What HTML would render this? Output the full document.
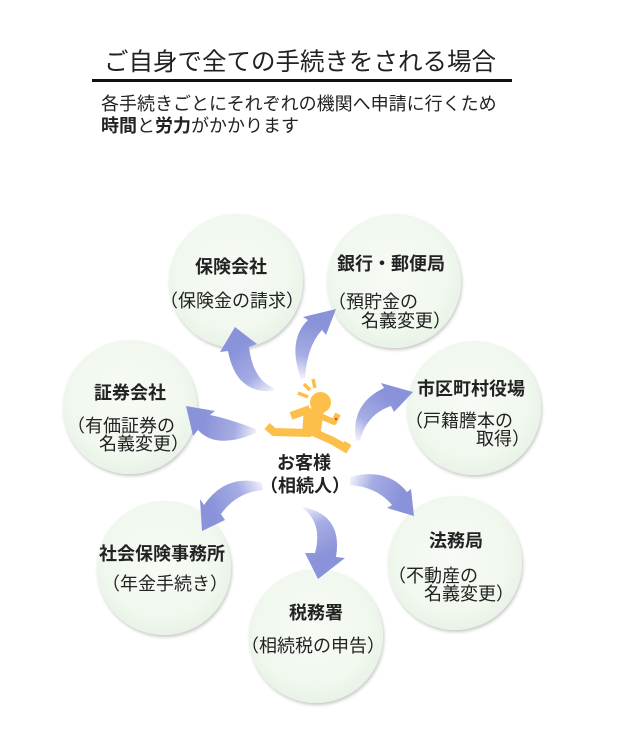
<!DOCTYPE html>
<html>
<head>
<meta charset="utf-8">
<style>
  html,body{margin:0;padding:0;background:#fff;}
  body{width:631px;height:753px;position:relative;overflow:hidden;
       font-family:"Liberation Sans","Noto Sans CJK JP",sans-serif;color:#222;}
  .c{position:absolute;width:134px;height:134px;border-radius:50%;
     background:radial-gradient(circle at 48% 44%, #f6fbf5 0%, #f1f8ef 55%, #e4efe1 84%, #d0dbce 100%);
     box-shadow:1px 2px 3px rgba(0,0,0,0.22);}
  .t{position:absolute;white-space:nowrap;font-size:18px;line-height:20px;}
  .b{font-weight:bold;}
  svg{position:absolute;left:0;top:0;}
</style>
</head>
<body>

<!-- header -->
<div class="t" style="left:104px;top:47.5px;font-size:24.5px;line-height:30px;">ご自身で全ての手続きをされる場合</div>
<div style="position:absolute;left:92px;top:79px;width:420px;height:3px;background:#111;"></div>
<div class="t" style="left:101px;top:93.5px;">各手続きごとにそれぞれの機関へ申請に行くため</div>
<div class="t" style="left:101px;top:115.5px;"><b>時間</b>と<b>労力</b>がかかります</div>

<!-- circles -->
<div class="c" style="left:169px;top:214px;"></div>
<div class="c" style="left:327px;top:214px;"></div>
<div class="c" style="left:407px;top:341px;"></div>
<div class="c" style="left:63px;top:340px;"></div>
<div class="c" style="left:97px;top:501px;"></div>
<div class="c" style="left:249px;top:569px;"></div>
<div class="c" style="left:388px;top:496px;"></div>

<!-- arrows + figure -->
<svg width="631" height="753" viewBox="0 0 631 753">
  <defs>
    <linearGradient id="g1" gradientUnits="userSpaceOnUse" x1="273" y1="390" x2="238" y2="348">
      <stop offset="0" stop-color="#eef0fa"/><stop offset="0.4" stop-color="#a6ade4"/><stop offset="1" stop-color="#8a93d9"/></linearGradient>
    <linearGradient id="g2" gradientUnits="userSpaceOnUse" x1="303" y1="378" x2="315" y2="325">
      <stop offset="0" stop-color="#eef0fa"/><stop offset="0.4" stop-color="#a6ade4"/><stop offset="1" stop-color="#8a93d9"/></linearGradient>
    <linearGradient id="g3" gradientUnits="userSpaceOnUse" x1="358" y1="440" x2="387" y2="397">
      <stop offset="0" stop-color="#eef0fa"/><stop offset="0.4" stop-color="#a6ade4"/><stop offset="1" stop-color="#8a93d9"/></linearGradient>
    <linearGradient id="g4" gradientUnits="userSpaceOnUse" x1="256" y1="431" x2="204" y2="423">
      <stop offset="0" stop-color="#eef0fa"/><stop offset="0.4" stop-color="#a6ade4"/><stop offset="1" stop-color="#8a93d9"/></linearGradient>
    <linearGradient id="g5" gradientUnits="userSpaceOnUse" x1="263" y1="486" x2="212" y2="510">
      <stop offset="0" stop-color="#eef0fa"/><stop offset="0.4" stop-color="#a6ade4"/><stop offset="1" stop-color="#8a93d9"/></linearGradient>
    <linearGradient id="g6" gradientUnits="userSpaceOnUse" x1="304" y1="507" x2="325" y2="555">
      <stop offset="0" stop-color="#eef0fa"/><stop offset="0.4" stop-color="#a6ade4"/><stop offset="1" stop-color="#8a93d9"/></linearGradient>
    <linearGradient id="g7" gradientUnits="userSpaceOnUse" x1="350" y1="481" x2="400" y2="499">
      <stop offset="0" stop-color="#eef0fa"/><stop offset="0.4" stop-color="#a6ade4"/><stop offset="1" stop-color="#8a93d9"/></linearGradient>
  </defs>

  <path fill="url(#g1)" d="M273,391 Q236,394 228,351 L220,352 L235,327 L257,344 L249,347 Q253,380 274,388 Z"/>
  <path fill="url(#g2)" d="M301,379 Q287,340 308,320 L303,317 L336,309 L326,335 L322,330 Q307,346 305,378 Z"/>
  <path fill="url(#g3)" d="M356,441 Q350,404 384,388 L381,383 L413,392 L394,412 L391,406 Q367,414 360,440 Z"/>
  <path fill="url(#g4)" d="M256,433 Q216,450 198,430 L193,436 L186,406 L215,411 L210,415 Q226,418 256,429 Z"/>
  <path fill="url(#g5)" d="M262,483 Q226,473 204,505 L200,499 L202,531 L225,520 L221,514 Q237,492 263,490 Z"/>
  <path fill="url(#g6)" d="M303,507 Q343,515 336,557 L345,558 L318,579 L305,553 L315,553 Q323,524 303,508 Z"/>
  <path fill="url(#g7)" d="M350,477 Q387,467 407,492 L411,489 L414,516 L387,508 L392,505 Q377,487 350,485 Z"/>

  <!-- running person -->
  <g fill="#fcbf49" stroke="#fcbf49">
    <circle cx="320.5" cy="402.5" r="10.5" stroke="none"/>
    <polygon points="304,407 324,411 320,436 302,436" stroke="none"/>
    <polyline points="310,409 291,416" fill="none" stroke-width="8"/>
    <polyline points="320,416 334,422 338,414" fill="none" stroke-width="6" stroke-linejoin="round"/>
    <polyline points="311,433 274,432 267,426" fill="none" stroke-width="8"/>
    <polyline points="313,432 333,441 345,448 348,443" fill="none" stroke-width="8"/>
    <line x1="298" y1="393" x2="308" y2="397" stroke-width="3.5"/>
    <line x1="304" y1="384" x2="310" y2="390" stroke-width="3.5"/>
    <line x1="313" y1="379" x2="315" y2="388" stroke-width="3.5"/>
  </g>
  <circle cx="336" cy="419" r="1.2" fill="#c04848"/>
</svg>

<!-- labels -->
<div class="t b" style="left:195px;top:256.5px;">保険会社</div>
<div class="t" style="left:160px;top:290.5px;">（保険金の請求）</div>

<div class="t b" style="left:337px;top:253.5px;">銀行・郵便局</div>
<div class="t" style="left:328px;top:291.5px;">（預貯金の</div>
<div class="t" style="left:361px;top:310.5px;">名義変更）</div>

<div class="t b" style="left:417px;top:378.5px;">市区町村役場</div>
<div class="t" style="left:405px;top:410.5px;">（戸籍謄本の</div>
<div class="t" style="left:476px;top:428.5px;">取得）</div>

<div class="t b" style="left:94px;top:382.5px;">証券会社</div>
<div class="t" style="left:67px;top:415.5px;">（有価証券の</div>
<div class="t" style="left:99px;top:433.5px;">名義変更）</div>

<div class="t b" style="left:99px;top:543.5px;">社会保険事務所</div>
<div class="t" style="left:102px;top:573.5px;">（年金手続き）</div>

<div class="t b" style="left:289px;top:602.5px;">税務署</div>
<div class="t" style="left:241px;top:635.5px;">（相続税の申告）</div>

<div class="t b" style="left:429px;top:530.5px;">法務局</div>
<div class="t" style="left:388px;top:565.5px;">（不動産の</div>
<div class="t" style="left:424px;top:583.5px;">名義変更）</div>

<div class="t b" style="left:277px;top:452.5px;">お客様</div>
<div class="t b" style="left:260px;top:475.5px;">（相続人）</div>

</body>
</html>
